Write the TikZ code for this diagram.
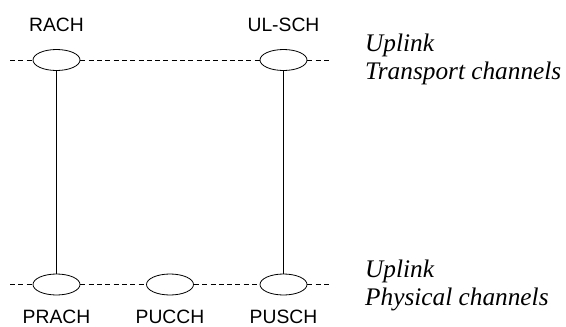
\documentclass[tikz,border=0pt]{standalone}
\usepackage{fontspec}
\setmainfont{Liberation Serif}
\setsansfont{Liberation Sans}
\usetikzlibrary{shapes.geometric}
\tikzset{
  chan/.style={ellipse, draw, line width=0.8pt, minimum width=47pt, minimum height=21pt, inner sep=0pt},
  lbl/.style={font=\sffamily\fontsize{19.3}{21}\selectfont, anchor=base, inner sep=0pt},
  side/.style={font=\rmfamily\itshape\fontsize{25.3}{28}\selectfont, anchor=base west, inner sep=0pt, align=left},
  dline/.style={line width=0.8pt, dash pattern=on 5pt off 3.3pt},
  vline/.style={line width=0.8pt}
}
\begin{document}
\begin{tikzpicture}[x=1pt,y=-1pt]
\useasboundingbox (0,0) rectangle (566,327);
% top row
\coordinate (tl) at (10,60);
\coordinate (tr) at (330,60);
\node[chan] (rach) at (56.5,60) {};
\node[chan] (ulsch) at (283.5,60) {};
% bottom row
\coordinate (bl) at (10,284.5);
\coordinate (br) at (330,284.5);
\node[chan] (prach) at (56.5,284.5) {};
\node[chan] (pucch) at (170,284.5) {};
\node[chan] (pusch) at (283.5,284.5) {};
% dashed lines
\draw[dline] (tl) -- (rach.west);
\draw[dline] (rach.east) -- (ulsch.west);
\draw[dline] (ulsch.east) -- (tr);
\draw[dline] (bl) -- (prach.west);
\draw[dline] (prach.east) -- (pucch.west);
\draw[dline] (pucch.east) -- (pusch.west);
\draw[dline] (pusch.east) -- (br);
% vertical connectors
\draw[vline] (rach.south) -- (prach.north);
\draw[vline] (ulsch.south) -- (pusch.north);
% labels
\node[lbl] (trach) at (56.5,31.5) {RACH};
\node[lbl] (tulsch) at (283.5,31.5) {UL-SCH};
\node[lbl] (tprach) at (56.5,323) {PRACH};
\node[lbl] (tpucch) at (170,323) {PUCCH};
\node[lbl] (tpusch) at (283.5,323) {PUSCH};
% side texts
\node[side] (up1) at (365,51) {Uplink};
\node[side] (tc) at (365,79) {Transport channels};
\node[side] (up2) at (365,277) {Uplink};
\node[side] (pc) at (365,305) {Physical channels};
\end{tikzpicture}
\end{document}
